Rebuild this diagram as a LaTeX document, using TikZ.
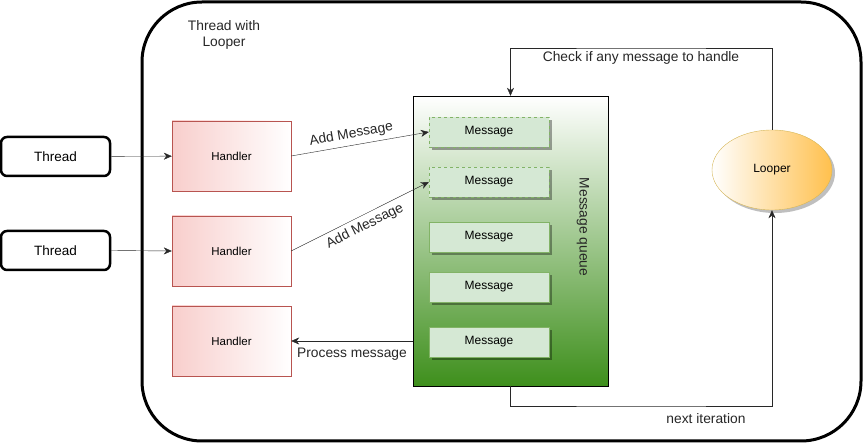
\documentclass[tikz,border=0pt]{standalone}
\usepackage{fontspec}
\setmainfont{Liberation Sans}
\usetikzlibrary{arrows.meta,shadows,shapes.geometric}

\definecolor{handlerred}{RGB}{248,206,204}
\definecolor{handlerline}{RGB}{184,84,80}
\definecolor{msgfill}{RGB}{213,232,212}
\definecolor{msgline}{RGB}{130,179,102}
\definecolor{queuegreen}{RGB}{62,143,28}
\definecolor{looperfill}{RGB}{255,192,77}
\definecolor{looperline}{RGB}{214,182,86}
\definecolor{wire}{RGB}{40,40,40}

\tikzset{
  threadbox/.style={draw, line width=2.5pt, rounded corners=6pt, minimum width=109pt, minimum height=39pt, font=\fontsize{13.5}{16}\selectfont},
  handlerbox/.style={draw=handlerline, left color=handlerred, right color=white, minimum width=119pt, minimum height=70pt, font=\fontsize{11.5}{14}\selectfont},
  msgbox/.style={draw=msgline, fill=msgfill, minimum width=120pt, minimum height=30pt, font=\fontsize{12}{14}\selectfont, drop shadow={shadow xshift=3pt, shadow yshift=-3pt, fill=black, opacity=0.35}},
  newmsg/.style={msgbox, dash pattern=on 3pt off 3pt},
  label/.style={font=\fontsize{13.8}{16.5}\selectfont, text=black!85},
  arr/.style={draw=wire, -{Stealth[length=8pt, width=7pt, inset=2.5pt]}}
}

\begin{document}
\begin{tikzpicture}[x=1pt, y=-1pt]

\useasboundingbox (0,0) rectangle (863,443);

% thread that owns the looper
\node[draw, line width=3pt, rounded corners=60pt, minimum width=719pt, minimum height=439pt] (looperthread) at (501.5,221.5) {};
\node[label, align=center] (title) at (224,35) {Thread with\\Looper};

\node[threadbox] (thread1) at (55.5,156.5) {Thread};
\node[threadbox] (thread2) at (55.5,250.5) {Thread};

\node[handlerbox] (handler1) at (231.5,156) {Handler};
\node[handlerbox] (handler2) at (231.5,251) {Handler};
\node[handlerbox] (handler3) at (231.5,341) {Handler};

% message queue
\node[draw, top color=white, bottom color=queuegreen, minimum width=195pt, minimum height=290pt] (queue) at (510.5,241) {};
\node[label, rotate=-90] (queuelabel) at (583,227) {Message queue};

\node[newmsg] (msg1) at (489,132) {Message};
\node[newmsg] (msg2) at (489,182) {Message};
\node[msgbox] (msg3) at (489,237) {Message};
\node[msgbox] (msg4) at (489,287) {Message};
\node[msgbox] (msg5) at (489,342) {Message};

\node[ellipse, draw=looperline, left color=white, right color=looperfill, minimum width=120pt, minimum height=80pt, font=\fontsize{12}{14}\selectfont, drop shadow={shadow xshift=3pt, shadow yshift=-3pt, fill=black, opacity=0.25}] (looper) at (772,170) {Looper};

\draw[arr] (thread1) -- (handler1);
\draw[arr] (thread2.east) -- (handler2.west);

\draw[arr] (handler1.east) -- (msg1.west) node[label, pos=0.45, above=1pt, sloped] {Add Message};
\draw[arr] (handler2.east) -- (msg2.west) node[label, midway, below=1pt, sloped] {Add Message};

\draw[arr] (queue.west |- handler3.east) -- (handler3.east) node[label, midway, below=3pt] {Process message};

% looping
\coordinate (checktop) at (641,48);
\coordinate (nextbottom) at (641,406);
\draw[arr] (looper.north) |- (checktop) -| (queue.north);
\node[label] (checklabel) at (641,57.5) {Check if any message to handle};
\draw[arr] (queue.south) |- (nextbottom) -| (looper.south);
\node[label] (nextlabel) at (706,419) {next iteration};

\end{tikzpicture}
\end{document}
